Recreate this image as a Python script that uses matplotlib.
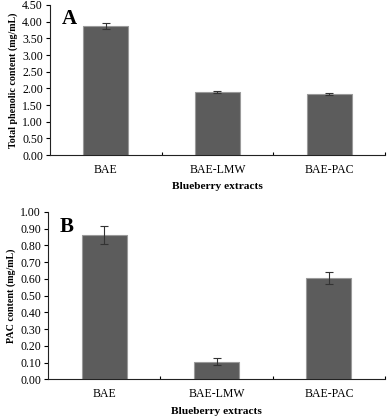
import matplotlib
matplotlib.use("Agg")
import matplotlib.pyplot as plt
import numpy as np

categories = ["BAE", "BAE-LMW", "BAE-PAC"]
phenolic = [3.88, 1.89, 1.84]
phenolic_err = [0.09, 0.04, 0.03]
pac = [0.862, 0.105, 0.606]
pac_err = [0.052, 0.02, 0.036]

plt.rcParams['font.family'] = ['Liberation Serif', 'DejaVu Serif']

fig = plt.figure(figsize=(3.87, 4.16), dpi=100)
axA = fig.add_axes([0.129, 0.627, 0.866, 0.361])
axB = fig.add_axes([0.124, 0.088, 0.871, 0.403])

bar_color = '#5c5c5c'
edge_color = '#9a9a9a'
x = np.arange(len(categories))


def draw(ax, vals, errs, ymax, step, ylabel, letter):
    ax.bar(x, vals, width=0.4, color=bar_color, edgecolor=edge_color, linewidth=0.8,
           yerr=errs, error_kw=dict(ecolor='#333333', elinewidth=0.8, capsize=3, capthick=0.8))
    ax.set_xlim(-0.5, 2.5)
    ax.set_ylim(0, ymax)
    ticks = np.arange(0, ymax + step / 2, step)
    ax.set_yticks(ticks)
    ax.set_yticklabels([f"{v:.2f}" for v in ticks], fontsize=8.5)
    ax.set_xticks(x)
    ax.set_xticklabels(categories, fontsize=8.5)
    ax.tick_params(axis='x', length=0, pad=6)
    ax.tick_params(axis='y', length=3, width=0.8, direction='out', pad=2)
    # small upward ticks at category boundaries
    ax.set_xticks([0.5, 1.5, 2.5], minor=True)
    ax.tick_params(axis='x', which='minor', length=2, width=0.8, direction='in')
    for s in ['top', 'right']:
        ax.spines[s].set_visible(False)
    for s in ['left', 'bottom']:
        ax.spines[s].set_linewidth(0.8)
        ax.spines[s].set_color('#222222')
    ax.set_ylabel(ylabel, fontsize=7.2, fontweight='bold', labelpad=3)
    ax.set_xlabel("Blueberry extracts", fontsize=8.2, fontweight='bold', labelpad=5)
    ax.text(0.035, 0.97, letter, transform=ax.transAxes, fontsize=15, fontweight='bold',
            va='top', ha='left')


draw(axA, phenolic, phenolic_err, 4.5, 0.5, "Total phenolic content (mg/mL)", "A")
draw(axB, pac, pac_err, 1.0, 0.1, "PAC content (mg/mL)", "B")

fig.savefig("out.png", dpi=100)
